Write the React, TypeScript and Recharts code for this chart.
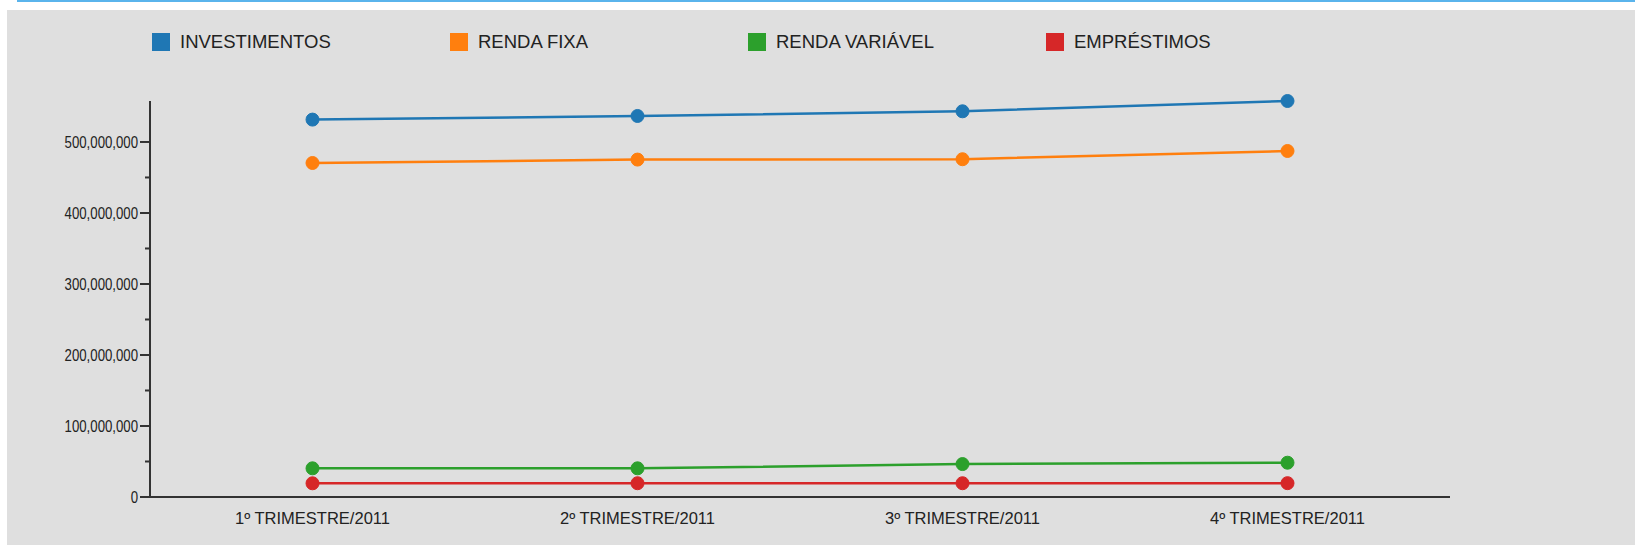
import React from "react";
import { Line, LineChart, XAxis, YAxis } from "recharts";

const quarters = ["1º TRIMESTRE/2011", "2º TRIMESTRE/2011", "3º TRIMESTRE/2011", "4º TRIMESTRE/2011"];

const investimentos = [531500000, 536600000, 543200000, 557700000];
const rendaFixa = [470400000, 475200000, 475700000, 487300000];
const rendaVariavel = [40400000, 40400000, 46400000, 48300000];
const emprestimos = [19300000, 19400000, 19400000, 19500000];

const majorTicks = [0, 100000000, 200000000, 300000000, 400000000, 500000000];
const minorTicks = [50000000, 150000000, 250000000, 350000000, 450000000];

const series = [
  { key: "investimentos", label: "INVESTIMENTOS", color: "#1f77b4", values: investimentos },
  { key: "rendaFixa", label: "RENDA FIXA", color: "#ff7f0e", values: rendaFixa },
  { key: "rendaVariavel", label: "RENDA VARIÁVEL", color: "#2ca02c", values: rendaVariavel },
  { key: "emprestimos", label: "EMPRÉSTIMOS", color: "#d62728", values: emprestimos },
];

const data = quarters.map((quarter, i) => {
  const row: Record<string, string | number> = { quarter };
  series.forEach((s) => (row[s.key] = s.values[i]));
  return row;
});

const font = "'Liberation Sans', Arial, sans-serif";
const axisColor = "#333";

// y ticks: long marks with labels for the hundreds of millions, short marks in between
// labels are squeezed horizontally like the condensed face in the original
function YTick(props: any) {
  const { x, y, payload } = props;
  const major = majorTicks.includes(payload.value);
  return (
    <g>
      <line x1={x + 2 + (major ? 0 : 5)} x2={x + 12} y1={y} y2={y} stroke={axisColor} strokeWidth={2} />
      {major && (
        <text
          transform={`translate(${x},${y}) scale(0.8,1)`}
          dy="0.35em"
          textAnchor="end"
          fontSize={16.5}
          fill="#222"
          fontFamily={font}
        >
          {payload.value.toLocaleString("en-US")}
        </text>
      )}
    </g>
  );
}

export default function App() {
  return (
    <div style={{ position: "absolute", left: 0, top: 0, width: 1635, height: 545, background: "#fff", fontFamily: font, overflow: "hidden" }}>
      <div style={{ position: "absolute", left: 17, top: 0, width: 1618, height: 2, background: "#5ab4ec" }} />
      <div style={{ position: "absolute", left: 7, top: 10, width: 1628, height: 535, background: "#dfdfdf" }} />

      {/* legend */}
      {series.map((s, i) => (
        <div key={s.key} style={{ position: "absolute", left: 152 + i * 298, top: 33, height: 18, display: "flex", alignItems: "center" }}>
          <div style={{ width: 18, height: 18, background: s.color }} />
          <span style={{ marginLeft: 10, fontSize: 18.5, color: "#222", lineHeight: "18px" }}>{s.label}</span>
        </div>
      ))}

      <div style={{ position: "absolute", left: 0, top: 0 }}>
        <LineChart width={1635} height={545} data={data} margin={{ top: 101, right: 185, bottom: 18, left: 10 }}>
          <XAxis
            dataKey="quarter"
            height={30}
            padding={{ left: 162.5, right: 162.5 }}
            tickLine={false}
            tickSize={0}
            tickMargin={15}
            axisLine={{ stroke: axisColor, strokeWidth: 2 }}
            tick={{ fontSize: 16.5, fill: "#222" }}
            interval={0}
          />
          <YAxis
            width={140}
            domain={[0, "dataMax"]}
            ticks={[...majorTicks, ...minorTicks].sort((a, b) => a - b)}
            interval={0}
            tickSize={10}
            tickMargin={2}
            tickLine={false}
            axisLine={{ stroke: axisColor, strokeWidth: 2 }}
            tick={<YTick />}
          />
          {series.map((s) => (
            <Line
              key={s.key}
              dataKey={s.key}
              stroke={s.color}
              strokeWidth={2.5}
              dot={{ r: 6.5, fill: s.color, stroke: s.color, strokeWidth: 1 }}
              activeDot={false}
              isAnimationActive={false}
            />
          ))}
        </LineChart>
      </div>
    </div>
  );
}
